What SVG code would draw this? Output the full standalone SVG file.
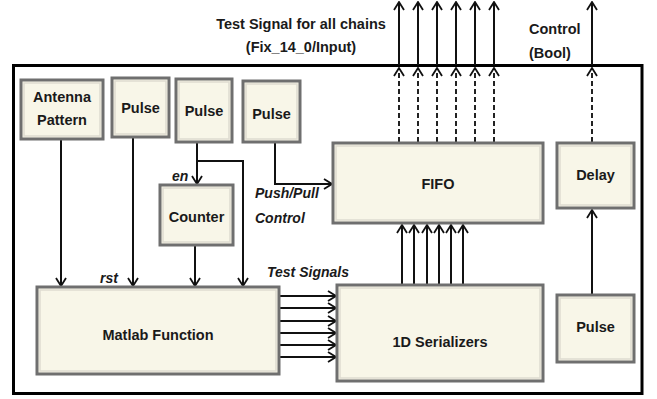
<svg xmlns="http://www.w3.org/2000/svg" width="657" height="399" viewBox="0 0 657 399">
<style>
.box{fill:#f8f6e8;stroke:#6f6f6f;stroke-width:3}
.bev{fill:none;stroke:#dedbd0;stroke-width:1.5}
.lbl{font-family:"Liberation Sans",Arial,sans-serif;font-weight:bold;font-size:14.5px;fill:#1a1a1a;text-anchor:middle}
.it{font-family:"Liberation Sans",Arial,sans-serif;font-weight:bold;font-style:italic;font-size:14px;fill:#1a1a1a}
.w{fill:none;stroke:#111;stroke-width:2}
.d{fill:none;stroke:#222;stroke-width:2;stroke-dasharray:5,3}
</style>
<defs>
<marker id="ah" viewBox="0 0 10 12" refX="9" refY="6" markerWidth="10" markerHeight="12" markerUnits="userSpaceOnUse" orient="auto">
<path d="M1,1 L9,6 L1,11" fill="none" stroke="#111" stroke-width="1.8"/>
</marker>
</defs>
<rect x="13.5" y="65.5" width="628.5" height="328" fill="#fff" stroke="#000" stroke-width="3"/>
<text class="lbl" x="301" y="29">Test Signal for all chains</text>
<text class="lbl" x="301" y="52">(Fix_14_0/Input)</text>
<text class="lbl" x="529" y="34" style="text-anchor:start">Control</text>
<text class="lbl" x="529" y="58" style="text-anchor:start">(Bool)</text>
<g id="connectors">
<path class="w" d="M61,139 V286" marker-end="url(#ah)"/>
<path class="w" d="M133,137 V286" marker-end="url(#ah)"/>
<path class="w" d="M197,142 V184" marker-end="url(#ah)"/>
<path class="w" d="M197,161 H243 V286" marker-end="url(#ah)"/>
<path class="w" d="M195,245 V286" marker-end="url(#ah)"/>
<path class="w" d="M275,142 V184 H332" marker-end="url(#ah)"/>
<path class="w" d="M279,296 H336" marker-end="url(#ah)"/>
<path class="w" d="M279,308 H336" marker-end="url(#ah)"/>
<path class="w" d="M279,321 H336" marker-end="url(#ah)"/>
<path class="w" d="M279,333 H336" marker-end="url(#ah)"/>
<path class="w" d="M279,345 H336" marker-end="url(#ah)"/>
<path class="w" d="M279,357 H336" marker-end="url(#ah)"/>
<path class="w" d="M402,285 V225" marker-end="url(#ah)"/>
<path class="w" d="M414,285 V225" marker-end="url(#ah)"/>
<path class="w" d="M427,285 V225" marker-end="url(#ah)"/>
<path class="w" d="M439,285 V225" marker-end="url(#ah)"/>
<path class="w" d="M451,285 V225" marker-end="url(#ah)"/>
<path class="w" d="M463,285 V225" marker-end="url(#ah)"/>
<path class="w" d="M592,295 V210" marker-end="url(#ah)"/>
<path class="d" d="M399,142 V68" marker-end="url(#ah)"/>
<path class="d" d="M418,142 V68" marker-end="url(#ah)"/>
<path class="d" d="M437,142 V68" marker-end="url(#ah)"/>
<path class="d" d="M456,142 V68" marker-end="url(#ah)"/>
<path class="d" d="M475,142 V68" marker-end="url(#ah)"/>
<path class="d" d="M494,142 V68" marker-end="url(#ah)"/>
<path class="d" d="M592,142 V68" marker-end="url(#ah)"/>
<path class="w" d="M399,65 V2" marker-end="url(#ah)"/>
<path class="w" d="M418,65 V2" marker-end="url(#ah)"/>
<path class="w" d="M437,65 V2" marker-end="url(#ah)"/>
<path class="w" d="M456,65 V2" marker-end="url(#ah)"/>
<path class="w" d="M475,65 V2" marker-end="url(#ah)"/>
<path class="w" d="M494,65 V2" marker-end="url(#ah)"/>
<path class="w" d="M592,65 V2" marker-end="url(#ah)"/>
</g>
<text class="it" x="172" y="181">en</text>
<text class="it" x="255" y="198">Push/Pull</text>
<text class="it" x="255" y="223">Control</text>
<text class="it" x="100" y="283">rst</text>
<text class="it" x="267" y="277">Test Signals</text>
<g id="antenna">
<rect class="box" x="21" y="80" width="82" height="59"/><rect class="bev" x="24" y="83" width="76" height="53"/>
<text class="lbl" x="62" y="102">Antenna</text><text class="lbl" x="62" y="125">Pattern</text>
</g>
<g id="pulse1">
<rect class="box" x="112" y="78" width="57" height="59"/><rect class="bev" x="115" y="81" width="51" height="53"/>
<text class="lbl" x="140.5" y="113">Pulse</text>
</g>
<g id="pulse2">
<rect class="box" x="176" y="79" width="56" height="63"/><rect class="bev" x="179" y="82" width="50" height="57"/>
<text class="lbl" x="204" y="116">Pulse</text>
</g>
<g id="pulse3">
<rect class="box" x="243" y="81" width="57" height="61"/><rect class="bev" x="246" y="84" width="51" height="55"/>
<text class="lbl" x="271.5" y="119">Pulse</text>
</g>
<g id="counter">
<rect class="box" x="160" y="185" width="73" height="60"/><rect class="bev" x="163" y="188" width="67" height="54"/>
<text class="lbl" x="196.5" y="222">Counter</text>
</g>
<g id="fifo">
<rect class="box" x="333" y="143" width="210" height="80"/><rect class="bev" x="336" y="146" width="204" height="74"/>
<text class="lbl" x="438" y="189">FIFO</text>
</g>
<g id="delay">
<rect class="box" x="557" y="143" width="77" height="65"/><rect class="bev" x="560" y="146" width="71" height="59"/>
<text class="lbl" x="595.5" y="180">Delay</text>
</g>
<g id="matlab">
<rect class="box" x="37" y="287" width="242" height="87"/><rect class="bev" x="40" y="290" width="236" height="81"/>
<text class="lbl" x="158" y="340">Matlab Function</text>
</g>
<g id="serializers">
<rect class="box" x="337" y="285" width="206" height="96"/><rect class="bev" x="340" y="288" width="200" height="90"/>
<text class="lbl" x="440" y="347">1D Serializers</text>
</g>
<g id="pulse4">
<rect class="box" x="557" y="295" width="77" height="67"/><rect class="bev" x="560" y="298" width="71" height="61"/>
<text class="lbl" x="595.5" y="332">Pulse</text>
</g>
</svg>
